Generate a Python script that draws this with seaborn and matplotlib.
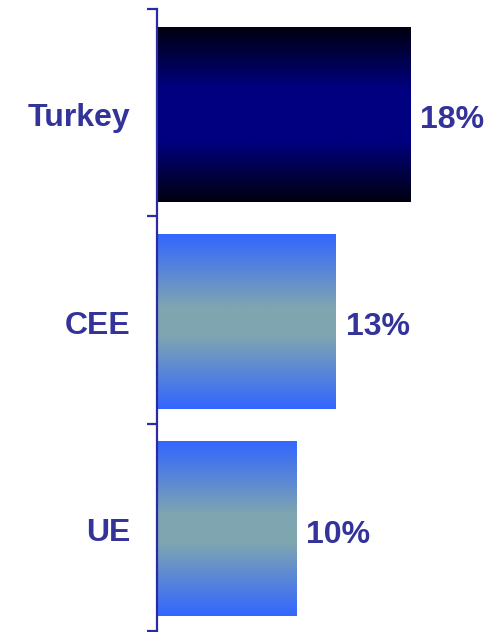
import numpy as np
import pandas as pd
import seaborn as sns
import matplotlib.pyplot as plt
from matplotlib.colors import LinearSegmentedColormap

# data
regions = ['Turkey', 'CEE', 'UE']
growth = [18.0, 12.7, 9.9]
labels = ['18%', '13%', '10%']

df = pd.DataFrame({'region': regions, 'growth': growth})

sns.set_style('white')
plt.rcParams['font.family'] = ['Liberation Sans', 'DejaVu Sans']

text_col = '#333399'
axis_col = '#2b2ba3'

fig = plt.figure(figsize=(4.99, 6.32), dpi=100)
ax = fig.add_axes([157 / 499, 1 - 631 / 632, 342 / 499, 622 / 632])

sns.barplot(data=df, x='growth', y='region', orient='h', width=0.84,
            color='white', ax=ax)

# gradient fills (edge -> middle -> edge)
dark = LinearSegmentedColormap.from_list(
    'dark', [(0, '#000010'), (0.35, '#000080'), (0.65, '#000080'), (1, '#000010')])
light = LinearSegmentedColormap.from_list(
    'light', [(0, '#3366ff'), (0.42, '#7fa6b0'), (0.58, '#7fa6b0'), (1, '#3366ff')])
grad = np.linspace(0, 1, 256).reshape(-1, 1)

ax.set_xlim(0, 342 / 14.06)
ax.set_ylim(2.5, -0.5)

for i, p in enumerate(ax.patches):
    x0, y0 = p.get_x(), p.get_y() + 0.01
    w, h = p.get_width(), p.get_height()
    cmap = dark if i == 0 else light
    ax.imshow(grad, cmap=cmap, aspect='auto', extent=(x0, x0 + w, y0 + h, y0),
              zorder=2, interpolation='bilinear')
    p.set_facecolor('none')
    p.set_edgecolor('none')
    ax.text(x0 + w + 0.72, y0 + h / 2 + 0.025, labels[i], ha='left', va='center',
            fontsize=23, fontweight='bold', color=text_col)

ax.set_xlim(0, 342 / 14.06)
ax.set_ylim(2.5, -0.5)

# axis with ticks between categories
ax.set_yticks([-0.5, 0.5, 1.5, 2.5])
ax.set_yticklabels([])
ax.set_yticks([0.01, 1.01, 2.01], minor=True)
ax.set_yticklabels(regions, minor=True, fontsize=23, fontweight='bold', color=text_col)
ax.tick_params(axis='y', which='major', length=7.5, width=1.6, color=axis_col, direction='out', left=True)
ax.tick_params(axis='y', which='minor', length=0, pad=19)
ax.set_xticks([])
ax.set_xlabel('')
ax.set_ylabel('')
for s in ['top', 'right', 'bottom']:
    ax.spines[s].set_visible(False)
ax.spines['left'].set_color(axis_col)
ax.spines['left'].set_linewidth(1.6)
ax.spines['left'].set_zorder(5)

plt.savefig('out.png', dpi=100)
